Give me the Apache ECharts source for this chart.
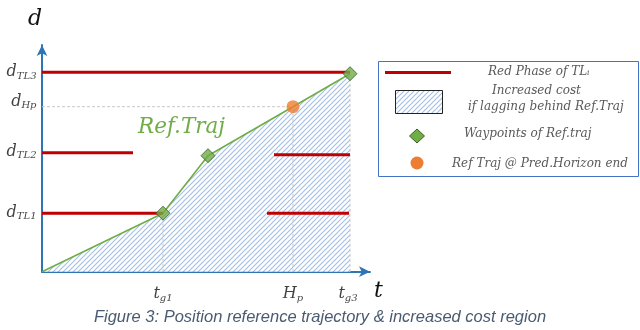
<!DOCTYPE html>
<html>
<head>
<meta charset="utf-8">
<script src="https://cdn.jsdelivr.net/npm/echarts@6/dist/echarts.min.js"></script>
<style>
  html, body { margin: 0; padding: 0; background: #fff; }
  #chart { width: 640px; height: 330px; }
</style>
</head>
<body>
<div id="chart"></div>
<script>
// positions in "time" / "distance" units
const refTraj = [[0, 0], [121, 58.5], [166, 116], [251, 165], [308, 198]];
const waypoints = [[121, 58.5], [166, 116], [308, 198]];
const horizonPoint = [[251, 165]];
const redPhases = [
  [[0, 199.4], [308, 199.4]],
  [[0, 119], [91, 119]],
  [[232, 117], [308, 117]],
  [[0, 58.5], [121, 58.5]],
  [[225, 58.5], [307, 58.5]]
];
const yTicks = [
  { v: 199.4, d: 'd', sub: 'TL3' },
  { v: 170, d: 'd', sub: 'Hp' },
  { v: 120, d: 'd', sub: 'TL2' },
  { v: 59, d: 'd', sub: 'TL1' }
];
const xTicks = [
  { v: 121, t: 't', sub: 'g1' },
  { v: 251, t: 'H', sub: 'p' },
  { v: 306, t: 't', sub: 'g3' }
];
const guideLines = [
  [[121, 0], [121, 58.5]],
  [[251, 0], [251, 165]],
  [[308, 0], [308, 198]],
  [[0, 165], [251, 165]]
];
const legendItems = [
  'Red Phase of TL\u1d62',
  'Increased cost',
  'if lagging behind Ref.Traj',
  'Waypoints of Ref.traj',
  'Ref Traj @ Pred.Horizon end'
];

const GREEN = '#70AD47';
const RED = '#C00000';
const BLUE = '#2E75B6';

// hatch pattern: thin light-blue "/" stripes
function makeHatch() {
  const s = 5;
  const c = document.createElement('canvas');
  c.width = s; c.height = s;
  const g = c.getContext('2d');
  g.fillStyle = '#fff';
  g.fillRect(0, 0, s, s);
  g.strokeStyle = '#A3BEE6';
  g.lineWidth = 1.1;
  g.beginPath();
  g.moveTo(-1, s + 1); g.lineTo(s + 1, -1);
  g.moveTo(-1, 1); g.lineTo(1, -1);
  g.moveTo(s - 1, s + 1); g.lineTo(s + 1, s - 1);
  g.stroke();
  return { image: c, repeat: 'repeat' };
}
const hatch = makeHatch();

const mathRich = {
  m: { fontFamily: 'DejaVu Serif', fontStyle: 'italic', fontSize: 16, color: '#111' },
  s: { fontFamily: 'DejaVu Serif', fontStyle: 'italic', fontSize: 10, color: '#111', padding: [8, 0, 0, 0] }
};

const series = [];
series.push({
  type: 'line', data: refTraj, symbol: 'none', z: 2,
  lineStyle: { color: GREEN, width: 1.6 },
  areaStyle: { color: hatch, opacity: 1 }
});
guideLines.forEach(seg => {
  series.push({
    type: 'line', data: seg, symbol: 'none', silent: true, z: 3,
    lineStyle: { color: '#C8C8C8', width: 1, type: [3, 2] }
  });
});
redPhases.forEach(seg => {
  series.push({
    type: 'line', data: seg, symbol: 'none', silent: true, z: 4,
    lineStyle: { color: RED, width: 3 }
  });
});
series.push({
  type: 'scatter', data: waypoints, symbol: 'diamond', symbolSize: [14, 14], z: 6,
  itemStyle: { color: GREEN, borderColor: '#3A5F22', borderWidth: 1 }
});
series.push({
  type: 'scatter', data: horizonPoint, symbol: 'circle', symbolSize: 13, z: 6,
  itemStyle: { color: '#ED7D31' }
});
series.push({
  type: 'scatter', symbol: 'circle', symbolSize: 1, z: 7, silent: true,
  itemStyle: { color: 'rgba(0,0,0,0)' },
  data: yTicks.map(k => ({ value: [0, k.v], name: k.d, sub: k.sub })),
  label: {
    show: true, position: 'left', distance: 5,
    formatter: p => '{m|' + p.data.name + '}{s|' + p.data.sub + '}',
    rich: mathRich
  }
});
series.push({
  type: 'scatter', symbol: 'circle', symbolSize: 1, z: 7, silent: true,
  itemStyle: { color: 'rgba(0,0,0,0)' },
  data: xTicks.map(k => ({ value: [k.v, 0], name: k.t, sub: k.sub })),
  label: {
    show: true, position: 'bottom', distance: 13,
    formatter: p => '{m|' + p.data.name + '}{s|' + p.data.sub + '}',
    rich: mathRich
  }
});

const chart = echarts.init(document.getElementById('chart'));

// legend box drawn as graphics
const legFont = 'italic 12px "DejaVu Serif"';
const legText = (txt, x, y) => ({
  type: 'text', left: x, top: y, z: 11,
  style: { text: txt, font: legFont, fill: '#595959' }
});

chart.setOption({
  animation: false,
  grid: { left: 42, top: 45, width: 328, height: 226.7 },
  xAxis: {
    type: 'value', min: 0, max: 328,
    axisLine: { lineStyle: { color: BLUE, width: 2 }, symbol: ['none', 'arrow'], symbolSize: [8, 11] },
    axisTick: { show: false }, axisLabel: { show: false }, splitLine: { show: false }
  },
  yAxis: {
    type: 'value', min: 0, max: 226.7,
    axisLine: { lineStyle: { color: BLUE, width: 2 }, symbol: ['none', 'arrow'], symbolSize: [8, 11] },
    axisTick: { show: false }, axisLabel: { show: false }, splitLine: { show: false }
  },
  series: series,
  graphic: [
    { type: 'text', left: 28, top: 8, style: { text: 'd', font: 'italic 22px "DejaVu Serif"', fill: '#111' } },
    { type: 'text', left: 374, top: 280, style: { text: 't', font: 'italic 22px "DejaVu Serif"', fill: '#111' } },
    { type: 'text', left: 138, top: 116, style: { text: 'Ref.Traj', font: 'italic 21.5px "DejaVu Serif"', fill: GREEN } },
    {
      type: 'text', left: 'center', top: 309,
      style: { text: 'Figure 3: Position reference trajectory & increased cost region', font: 'italic 16.5px "Liberation Sans"', fill: '#4A5A70' }
    },
    { type: 'rect', shape: { x: 378.5, y: 61.5, width: 260, height: 115 }, style: { fill: '#fff', stroke: '#4472C4', lineWidth: 1 }, z: 10 },
    { type: 'line', shape: { x1: 385, y1: 72.5, x2: 451, y2: 72.5 }, style: { stroke: RED, lineWidth: 3 }, z: 11 },
    { type: 'rect', shape: { x: 395.5, y: 90.5, width: 47, height: 23 }, style: { fill: hatch, stroke: '#222', lineWidth: 1 }, z: 11 },
    { type: 'polygon', shape: { points: [[417, 129], [424.5, 136], [417, 143], [409.5, 136]] }, style: { fill: GREEN, stroke: '#3A5F22', lineWidth: 1 }, z: 11 },
    { type: 'circle', shape: { cx: 417, cy: 163, r: 6.5 }, style: { fill: '#ED7D31' }, z: 11 },
    legText(legendItems[0], 488, 66),
    legText(legendItems[1], 492, 85),
    legText(legendItems[2], 468, 101),
    legText(legendItems[3], 464, 128),
    legText(legendItems[4], 452, 158)
  ]
});
</script>
</body>
</html>
